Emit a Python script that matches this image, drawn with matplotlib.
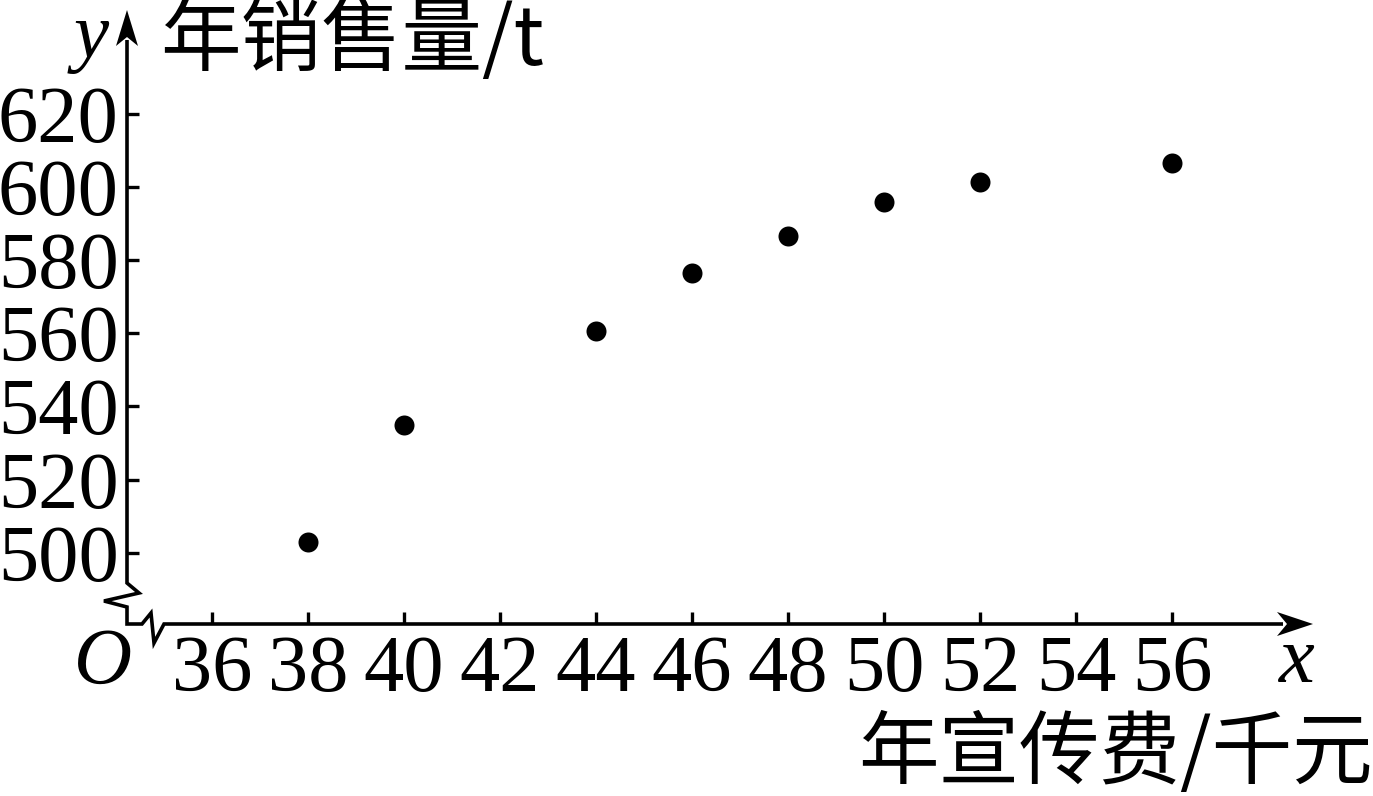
import matplotlib
matplotlib.use('Agg')
import matplotlib.pyplot as plt
from matplotlib.patches import Polygon

# ---- data ----
ad_cost = [38, 40, 44, 46, 48, 50, 52, 56]                     # 年宣传费/千元
sales = [503.0, 535.0, 560.7, 576.6, 586.7, 596.0, 601.4, 606.6]  # 年销售量/t
x_ticks = [36, 38, 40, 42, 44, 46, 48, 50, 52, 54, 56]
y_ticks = [500, 520, 540, 560, 580, 600, 620]
x_title = "年宣传费/千元"
y_title = "年销售量/t"

W, H = 1373, 796
plt.rcParams['font.family'] = ['Liberation Serif', 'DejaVu Serif']
fig = plt.figure(figsize=(W / 100, H / 100), dpi=100)

# decoration layer in pixel coordinates
deco = fig.add_axes([0, 0, 1, 1])
deco.set_xlim(0, W)
deco.set_ylim(H, 0)
deco.axis('off')

ox, oy = 127, 624          # origin of the drawn axes (pixels)
tip_x, tip_y = 1313, 10    # arrow tips

# data axes
ax = fig.add_axes([ox / W, (H - oy) / H, (tip_x - ox) / W, (oy - tip_y) / H])
ax.set_xlim(34.229, 58.9375)
ax.set_ylim(480.5, 648.44)
ax.patch.set_alpha(0)
for s in ax.spines.values():
    s.set_visible(False)
ax.set_xticks(x_ticks)
ax.set_yticks(y_ticks)
ax.set_xticklabels([str(v) for v in x_ticks])
ax.set_yticklabels([str(v) for v in y_ticks])
ax.tick_params(direction='in', length=8.5, width=2.4, labelsize=58, color='black')
ax.tick_params(axis='x', pad=8)
ax.tick_params(axis='y', pad=6)
ax.scatter(ad_cost, sales, s=14.4 ** 2, color='black', clip_on=False,
           zorder=3, linewidths=0)

# axis lines with break marks
lw = 2.6
path = [(ox, tip_y + 30), (ox, 583), (139, 593), (104, 601), (ox, 607), (ox, oy),
        (142, oy), (151, 613), (154, 643), (164, oy), (tip_x - 30, oy)]
deco.plot([p[0] for p in path], [p[1] for p in path], color='black', lw=lw,
          solid_joinstyle='miter', solid_capstyle='butt')

# arrowheads
deco.add_patch(Polygon([(tip_x, oy), (tip_x - 36, oy - 12), (tip_x - 26, oy),
                        (tip_x - 36, oy + 12)], closed=True, color='black', lw=0))
deco.add_patch(Polygon([(ox, tip_y), (ox - 11, tip_y + 36), (ox, tip_y + 27),
                        (ox + 11, tip_y + 36)], closed=True, color='black', lw=0))

# axis letters
deco.text(91, 57, 'y', style='italic', fontsize=57, ha='center', va='baseline')
deco.text(1297, 682, 'x', style='italic', fontsize=58, ha='center', va='baseline')
deco.text(103, 684, 'O', style='italic', fontsize=58, ha='center', va='baseline')

# titles
cjk = ['Noto Sans CJK SC', 'DejaVu Sans']
deco.text(160, 42, y_title, family=cjk, fontsize=58, ha='left', va='center')
deco.text(W, 755, x_title, family=cjk, fontsize=58, ha='right', va='center')

fig.savefig('out.png', dpi=100)
